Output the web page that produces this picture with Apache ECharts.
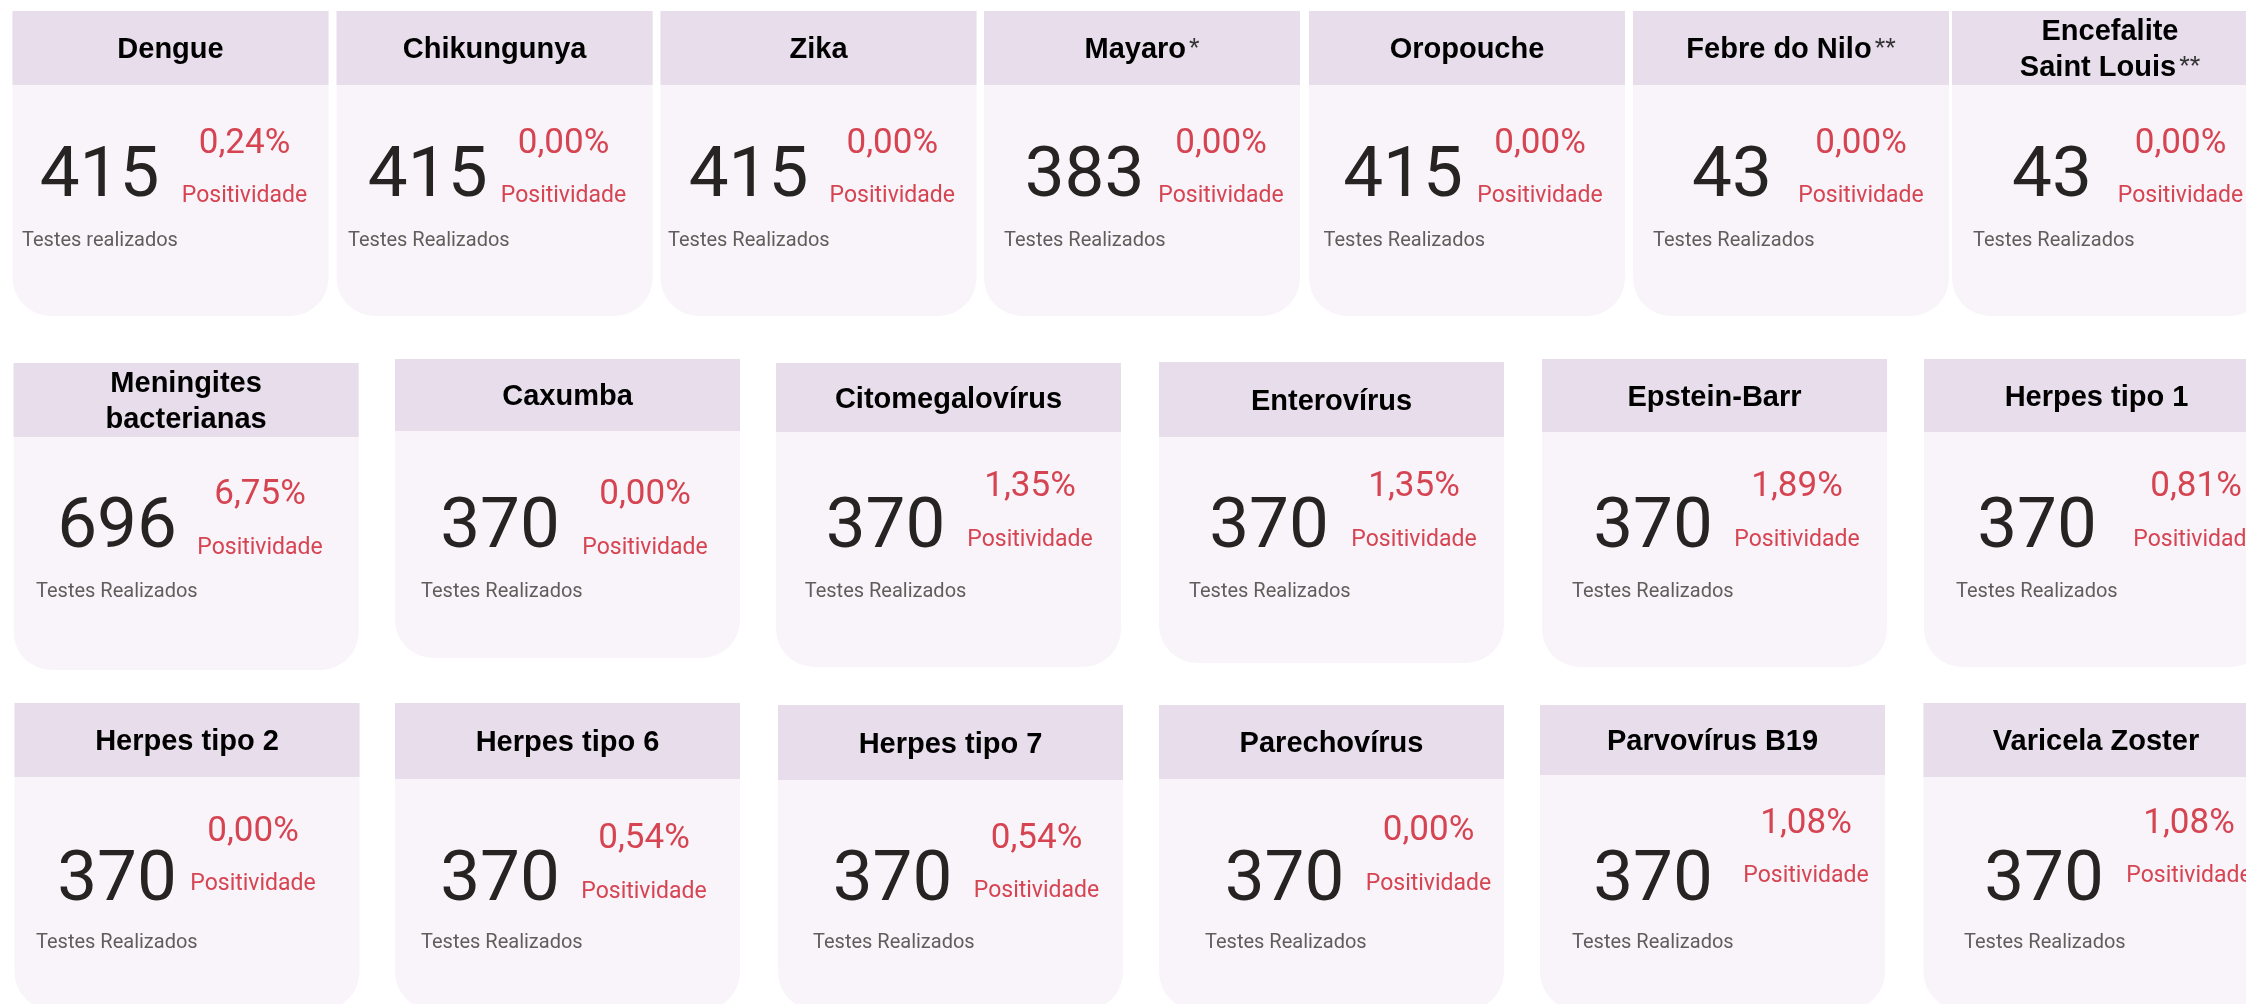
<!DOCTYPE html>
<html>
<head>
<meta charset="utf-8">
<script src="https://cdn.jsdelivr.net/npm/echarts@6/dist/echarts.min.js"></script>
<style>
    html, body { margin: 0; padding: 0; background: #fff; }
    #main { width: 2246px; height: 1004px; }
</style>
</head>
<body>
<div id="main"></div>
<script>
    // dados dos cartões
    var exames = ['Dengue', 'Chikungunya', 'Zika', 'Mayaro', 'Oropouche', 'Febre do Nilo', 'Encefalite\nSaint Louis',
        'Meningites\nbacterianas', 'Caxumba', 'Citomegalovírus', 'Enterovírus', 'Epstein-Barr', 'Herpes tipo 1',
        'Herpes tipo 2', 'Herpes tipo 6', 'Herpes tipo 7', 'Parechovírus', 'Parvovírus B19', 'Varicela Zoster'
    ];
    var notas = ['', '', '', '*', '', '**', '**', '', '', '', '', '', '', '', '', '', '', '', ''];
    var testes = [415, 415, 415, 383, 415, 43, 43, 696, 370, 370, 370, 370, 370, 370, 370, 370, 370, 370, 370];
    var positividade = [0.24, 0.00, 0.00, 0.00, 0.00, 0.00, 0.00, 6.75, 0.00, 1.35, 1.35, 1.89, 0.81,
        0.00, 0.54, 0.54, 0.00, 1.08, 1.08
    ];
    var rotulos = ['Testes realizados', 'Testes Realizados', 'Positividade'];

    // posição de cada cartão: x, topo, fim do cabeçalho, base, largura,
    // centro do número (x,y), centro do % (x,y), y de "Positividade", x/y de "Testes"
    var layout = [
        [12.5, 11, 85, 316, 316, 99.5, 173, 244.5, 140.5, 192.5, 22, 238],
        [336.6, 11, 85, 316, 316, 427.7, 173, 563.5, 140.5, 192.5, 348, 238],
        [660.5, 11, 85, 316, 316, 748.5, 173, 892.3, 140.5, 192.5, 668, 238],
        [984, 11, 85, 316, 316, 1084.5, 173, 1221, 140.5, 192.5, 1004, 238],
        [1309, 11, 85, 316, 316, 1403, 173, 1540, 140.5, 192.5, 1323.5, 238],
        [1633, 11, 85, 316, 316, 1732, 173, 1861, 140.5, 192.5, 1653, 238],
        [1952, 11, 85, 316, 316, 2052, 173, 2180.5, 140.5, 192.5, 1973, 238],
        [13.6, 363, 437, 670, 345, 117, 524, 260, 492, 544.5, 36, 589],
        [395, 359, 431, 658, 345, 500, 524, 645, 492, 544.5, 421, 589],
        [776, 363, 432, 667, 345, 885.5, 524.5, 1030, 484, 536.5, 804.7, 589.5],
        [1159, 362, 437, 663, 345, 1269, 524.5, 1414, 484, 536.5, 1189, 589.5],
        [1542, 359, 432, 667, 345, 1653, 524.5, 1797, 484, 536.5, 1572, 589.5],
        [1924, 359, 432, 667, 345, 2037, 524.5, 2196, 484, 536.5, 1956, 589.5],
        [14.5, 703, 777, 1010, 345, 117, 877, 253, 828.5, 880.5, 36, 940.5],
        [395, 703, 779, 1010, 345, 500, 877, 644, 835.5, 888.5, 421, 940.5],
        [778, 705, 780, 1010, 345, 892.5, 877, 1036.5, 836, 888, 813, 940.5],
        [1159, 705, 779, 1010, 345, 1284.5, 877, 1428.5, 828, 880.5, 1205, 940.5],
        [1540, 705, 775, 1010, 345, 1653, 877, 1806, 820.5, 873, 1572, 940.5],
        [1923.5, 703, 777, 1010, 345, 2044, 877, 2189, 820.5, 873, 1964, 940.5]
    ];

    // 'middle' do canvas fica um pouco acima do centro visual dos dígitos
    var ajusteTitulo = 2, ajusteNum = 5, ajustePct = 3.5, ajustePos = 3.5, ajusteTestes = 2.5;

    var corCabecalho = '#E7DDEB';
    var corCorpo = '#F8F4F9';
    var corVermelho = '#D64452';

    function formatPct(v) {
        return v.toFixed(2).replace('.', ',') + '%';
    }

    function tituloRich(nome, nota) {
        var linhas = nome.split('\n');
        return linhas.map(function(l, i) {
            var s = '{t|' + l + '}';
            if (i === linhas.length - 1 && nota) s += '{s|' + nota + '}';
            return s;
        }).join('\n');
    }

    var chart = echarts.init(document.getElementById('main'));
    var elements = [];

    exames.forEach(function(nome, i) {
        var c = layout[i];
        var x = c[0], top = c[1], hb = c[2], bottom = c[3], w = c[4];
        // corpo com cantos inferiores arredondados
        elements.push({
            type: 'rect',
            shape: { x: x, y: top, width: w, height: bottom - top, r: [0, 0, 38, 38] },
            style: { fill: corCorpo }
        });
        // cabeçalho
        elements.push({
            type: 'rect',
            shape: { x: x, y: top, width: w, height: hb - top },
            style: { fill: corCabecalho }
        });
        elements.push({
            type: 'text',
            style: {
                text: tituloRich(nome, notas[i]),
                x: x + w / 2,
                y: (top + hb) / 2 + ajusteTitulo,
                align: 'center',
                verticalAlign: 'middle',
                lineHeight: 36,
                rich: {
                    t: { fontFamily: 'Liberation Sans', fontWeight: 'bold', fontSize: 29, fill: '#000', lineHeight: 36 },
                    s: { fontFamily: 'Liberation Sans', fontSize: 27, fill: '#333', lineHeight: 36, padding: [0, 0, 0, 3] }
                }
            }
        });
        // número de testes
        elements.push({
            type: 'text',
            style: {
                text: String(testes[i]),
                x: c[5], y: c[6] + ajusteNum,
                align: 'center', verticalAlign: 'middle',
                fontFamily: 'Roboto', fontSize: 71, fill: '#252423'
            }
        });
        // positividade
        elements.push({
            type: 'text',
            style: {
                text: formatPct(positividade[i]),
                x: c[7], y: c[8] + ajustePct,
                align: 'center', verticalAlign: 'middle',
                fontFamily: 'Roboto', fontSize: 35, fill: corVermelho
            }
        });
        elements.push({
            type: 'text',
            style: {
                text: rotulos[2],
                x: c[7], y: c[9] + ajustePos,
                align: 'center', verticalAlign: 'middle',
                fontFamily: 'Roboto', fontSize: 23, fill: corVermelho
            }
        });
        elements.push({
            type: 'text',
            style: {
                text: i === 0 ? rotulos[0] : rotulos[1],
                x: c[10], y: c[11] + ajusteTestes,
                align: 'left', verticalAlign: 'middle',
                fontFamily: 'Roboto', fontSize: 20, fill: '#605E5C'
            }
        });
    });

    chart.setOption({
        backgroundColor: '#fff',
        animation: false,
        graphic: { elements: elements }
    });

    window.addEventListener('resize', function() {
        chart.resize();
    });
</script>
</body>
</html>
